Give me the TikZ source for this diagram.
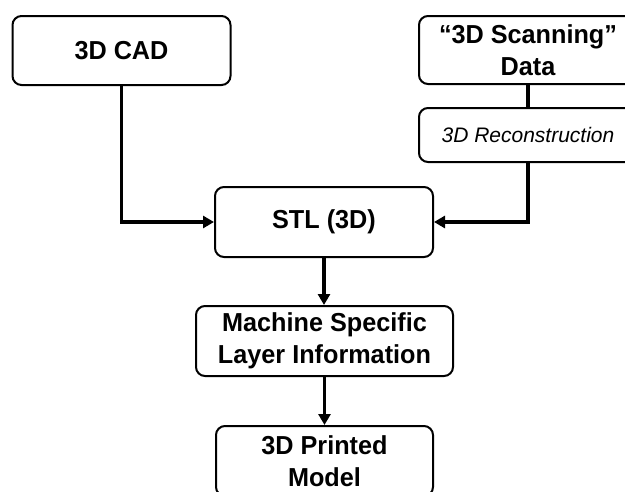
\documentclass[tikz,border=0pt]{standalone}
\usepackage{fontspec}
\setmainfont{Liberation Sans}
\newfontfamily\boxfont{Liberation Sans}[FakeStretch=0.97]
\usetikzlibrary{arrows.meta}
\begin{document}
\begin{tikzpicture}[x=1pt,y=-1pt,
  box/.style={draw, line width=2pt, rounded corners=9pt, minimum width=218pt,
    minimum height=69pt, inner sep=0pt, align=center,
    font=\boxfont\fontsize{26}{31.5}\selectfont\bfseries},
  conn/.style={line width=3.5pt},
  arr/.style={conn, -{Triangle[length=11pt,width=12pt]}}]
\useasboundingbox (0,0) rectangle (625,491);
\clip (0,0) rectangle (625,491);
\node[box] (cad) at (121.5,50.5) {3D CAD};
\node[box, minimum height=68pt] (scan) at (528,50) {“3D Scanning”\\Data};
\node[box, minimum height=54pt, font=\fontsize{21}{25}\selectfont\itshape] (recon) at (528,135) {3D Reconstruction};
\node[box, minimum height=70pt] (stl) at (324,222) {STL (3D)};
\node[box, minimum width=257pt, minimum height=70pt] (mach) at (324.5,341) {Machine Specific\\Layer Information};
\node[box, minimum width=217pt, minimum height=70pt] (print) at (324.5,461) {3D Printed\\Model};
\draw[arr] (cad.south) |- (stl.west);
\draw[conn] (scan.south) -- (recon.north);
\draw[arr] (recon.south) |- (stl.east);
\draw[arr] (stl.south) -- (stl.south |- mach.north);
\draw[arr] (mach.south) -- (mach.south |- print.north);
\end{tikzpicture}
\end{document}
